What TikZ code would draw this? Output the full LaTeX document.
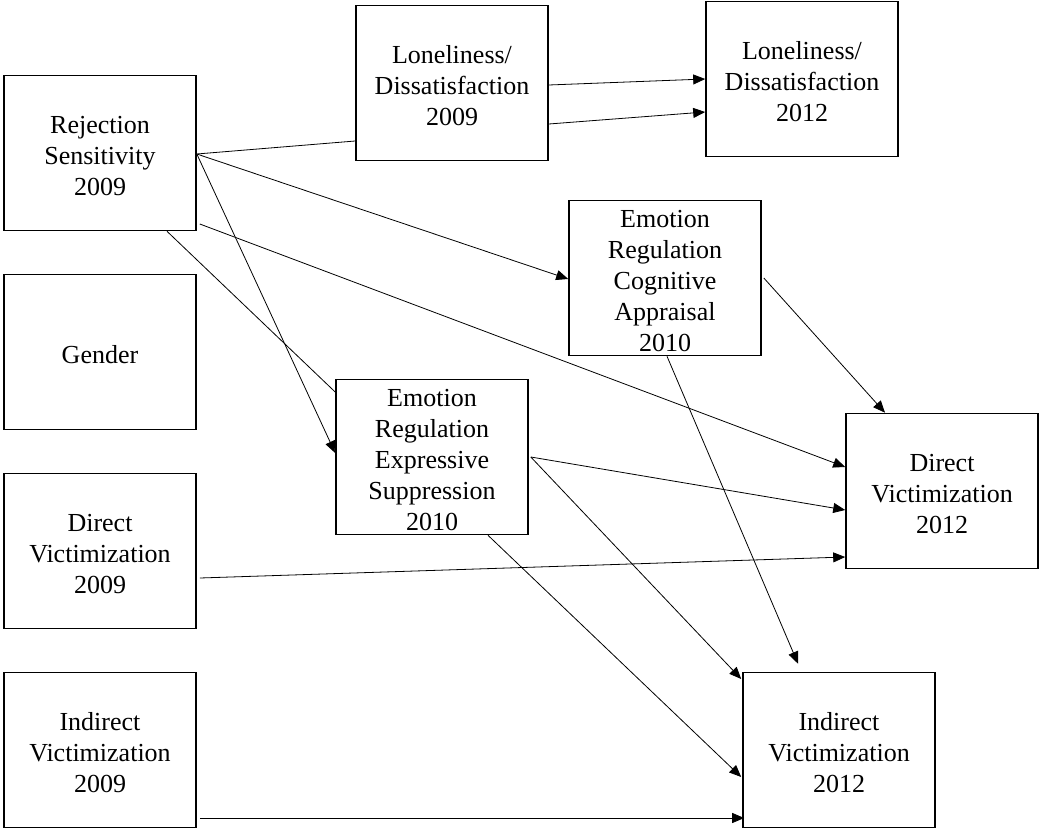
\documentclass[tikz,border=0pt]{standalone}
\usepackage{fontspec}
\setmainfont{Liberation Serif}
\usetikzlibrary{arrows.meta,calc}
% taller first line: sets each text block a little below the box centre
\newcommand\vlift{\rule{0pt}{24pt}}
\begin{document}
\begin{tikzpicture}[x=1pt,y=-1pt,
  varbox/.style={draw,line width=1.6pt,minimum width=192pt,minimum height=155pt,
    inner sep=0pt,align=center,font=\fontsize{26}{31}\selectfont},
  link/.style={line width=0.8pt},
  path/.style={link,-{Triangle[length=12pt,width=10pt]}}]
\fill[white] (0,0) rectangle (1040,829);
\useasboundingbox (0,0) rectangle (1040,829);
% predictors (2009)
\node[varbox] (rs) at (100,153) {\vlift Rejection\\Sensitivity\\2009};
\node[varbox] (gender) at (100,352) {\vlift Gender};
\node[varbox] (dv09) at (100,551) {\vlift Direct\\Victimization\\2009};
\node[varbox] (iv09) at (100,750) {\vlift Indirect\\Victimization\\2009};
% mediators and outcomes
\node[varbox] (lon09) at (452,83) {\vlift Loneliness/\\Dissatisfaction\\2009};
\node[varbox] (lon12) at (802,79) {\vlift Loneliness/\\Dissatisfaction\\2012};
\node[varbox] (cog) at (665,278) {\vlift Emotion\\Regulation\\Cognitive\\Appraisal\\2010};
\node[varbox] (exp) at (432,457) {\vlift Emotion\\Regulation\\Expressive\\Suppression\\2010};
\node[varbox] (dv12) at (942,491) {\vlift Direct\\Victimization\\2012};
\node[varbox] (iv12) at (839,750) {\vlift Indirect\\Victimization\\2012};
% paths
\draw[link] ($(rs.east)+(0,1)$) -- ($(lon09.west)+(0,58)$);
\draw[path] ($(lon09.east)+(0,2)$) -- ($(lon12.west)+(0,0)$);
\draw[path] ($(lon09.east)+(0,41)$) -- ($(lon12.west)+(0,33)$);
\draw[path] ($(rs.east)+(0,1)$) -- ($(cog.west)+(0,1)$);
\draw[path] ($(rs.east)+(0,1)$) -- ($(exp.west)+(0,-4)$);
\draw[path] ($(rs.east)+(3,71)$) -- ($(dv12.west)+(0,-24)$);
\draw[link] ($(rs.south)+(67,0)$) -- ($(exp.west)+(0,-65)$);
\draw[path] ($(cog.east)+(2,0)$) -- ($(dv12.north)+(-57,0)$);
\draw[path] ($(cog.south)+(2,0)$) -- ($(iv12.north)+(-41,-8)$);
\draw[path] ($(exp.east)+(2,0)$) -- ($(dv12.west)+(0,19)$);
\draw[path] ($(exp.east)+(2,0)$) -- ($(iv12.west)+(-1,-71)$);
\draw[path] ($(exp.south)+(56,0)$) -- ($(iv12.west)+(-1,27)$);
\draw[path] ($(dv09.east)+(3,27)$) -- ($(dv12.west)+(0,66)$);
\draw[path] ($(iv09.east)+(3,68)$) -- ($(iv12.west)+(2,68)$);
\end{tikzpicture}
\end{document}
